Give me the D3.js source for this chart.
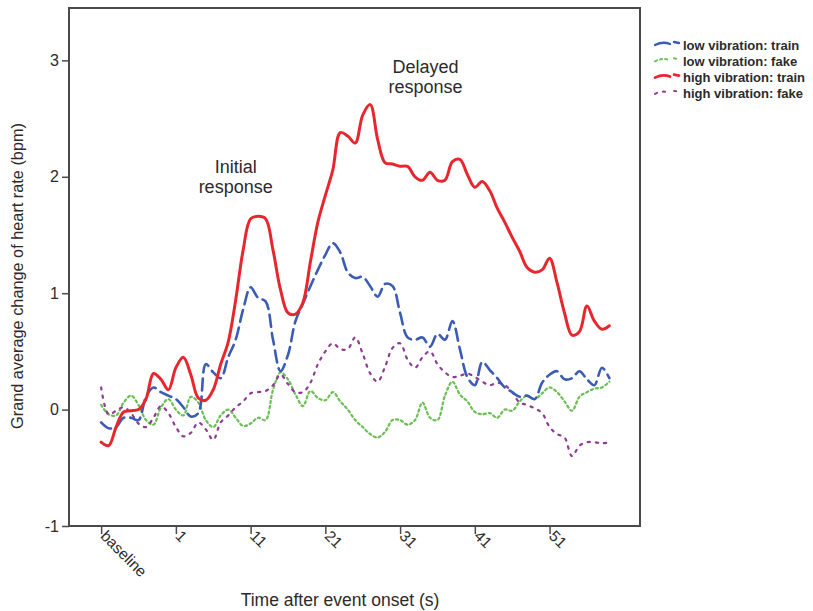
<!DOCTYPE html>
<html>
<head>
<meta charset="utf-8">
<script src="https://cdn.jsdelivr.net/npm/d3@7"></script>
<style>
  body { margin: 0; background: #fff; }
  text { font-family: Arial, "Liberation Sans", sans-serif; fill: #2b2b2b; }
</style>
</head>
<body>
<div id="chart"></div>
<script>
// seconds after onset (baseline sits at -9 on the time axis)
var seconds = [-9,-8,-7,-6,-5,-4,-3,-2,-1,0,1,2,3,4,5,6,7,8,9,10,11,12,13,14,15,16,17,18,19,20,
  21,22,23,24,25,26,27,28,29,30,31,32,33,34,35,36,37,38,39,40,41,42,43,44,45,46,47,48,49,50,
  51,52,53,54,55,56,57,58,59];

var lowTrain = [-0.11,-0.16,-0.15,-0.07,-0.07,-0.09,0.11,0.19,0.15,0.12,0.09,0.02,-0.06,-0.03,0.39,0.32,0.27,0.45,0.60,0.86,
  1.05,0.96,0.93,0.60,0.33,0.47,0.76,0.91,1.06,1.20,1.33,1.43,1.35,1.18,1.13,1.14,1.06,0.97,1.08,1.06,
  0.83,0.62,0.60,0.62,0.54,0.65,0.60,0.76,0.52,0.28,0.21,0.41,0.34,0.27,0.19,0.15,0.11,0.12,0.09,0.23,
  0.30,0.33,0.26,0.27,0.33,0.26,0.21,0.36,0.27];

var lowFake = [0.04,-0.04,-0.05,0.06,0.12,0.04,-0.09,-0.13,0.02,0.09,0.00,-0.05,0.11,0.06,-0.09,-0.15,-0.05,0.00,-0.07,-0.14,
  -0.12,-0.07,-0.09,0.17,0.32,0.26,0.13,0.03,0.16,0.10,0.08,0.15,0.07,0.00,-0.09,-0.15,-0.21,-0.24,-0.19,-0.09,
  -0.09,-0.13,-0.09,0.06,-0.07,-0.09,0.12,0.24,0.13,0.07,-0.02,-0.04,-0.03,-0.07,0.00,-0.01,0.07,0.12,0.09,0.14,
  0.19,0.15,0.07,-0.01,0.11,0.15,0.18,0.19,0.24];

var highTrain = [-0.28,-0.31,-0.15,-0.02,-0.01,0.00,0.09,0.31,0.26,0.17,0.36,0.45,0.30,0.10,0.08,0.17,0.39,0.58,0.94,1.37,
  1.64,1.66,1.64,1.37,1.03,0.83,0.82,0.92,1.27,1.61,1.84,2.06,2.38,2.35,2.29,2.53,2.62,2.32,2.12,2.11,
  2.09,2.09,2.00,1.97,2.04,1.97,1.97,2.13,2.15,2.02,1.91,1.96,1.88,1.73,1.61,1.48,1.36,1.22,1.18,1.20,
  1.30,1.09,0.83,0.64,0.67,0.89,0.76,0.69,0.72];

var highFake = [0.19,-0.04,-0.01,0.02,-0.03,-0.12,-0.15,-0.07,0.03,-0.03,-0.15,-0.23,-0.20,-0.11,-0.17,-0.26,-0.11,-0.05,0.02,0.07,
  0.14,0.15,0.16,0.21,0.30,0.22,0.15,0.15,0.23,0.39,0.50,0.57,0.52,0.52,0.62,0.48,0.31,0.24,0.37,0.53,
  0.57,0.43,0.36,0.45,0.50,0.39,0.32,0.28,0.29,0.31,0.28,0.24,0.21,0.23,0.21,0.15,0.06,0.04,0.01,-0.03,
  -0.15,-0.21,-0.24,-0.40,-0.31,-0.28,-0.28,-0.29,-0.28];

var xTickValues = [-9, 1, 11, 21, 31, 41, 51];
var xTickLabels = ["baseline", "1", "11", "21", "31", "41", "51"];
var yTickValues = [-1, 0, 1, 2, 3];

var seriesNames = ["low vibration: train", "low vibration: fake", "high vibration: train", "high vibration: fake"];

const width = 813, height = 611;
const plot = {left: 69, right: 640, top: 8, bottom: 526};

const svg = d3.select("#chart").append("svg")
  .attr("width", width)
  .attr("height", height);

const x = d3.scaleLinear().domain([-13.3, 63.1]).range([plot.left, plot.right]);
const y = d3.scaleLinear().domain([-1, 3.45]).range([plot.bottom, plot.top]);

// styles for each series
const styles = [
  {data: lowTrain, color: "#3b5cb5", width: 2.6, dash: "12,6"},
  {data: lowFake, color: "#6cbf55", width: 2.2, dash: "2.2,3"},
  {data: highTrain, color: "#e8262d", width: 3, dash: null},
  {data: highFake, color: "#8e3c93", width: 2.2, dash: "2.2,6"}
];

const line = d3.line()
  .x((d, i) => x(seconds[i]))
  .y(d => y(d))
  .curve(d3.curveCatmullRom.alpha(0.5));

// draw order: green and purple below, then blue, red on top
[1, 3, 0, 2].forEach(k => {
  const s = styles[k];
  svg.append("path")
    .datum(s.data)
    .attr("fill", "none")
    .attr("stroke", s.color)
    .attr("stroke-width", s.width)
    .attr("stroke-dasharray", s.dash)
    .attr("stroke-linecap", "round")
    .attr("d", line);
});

// frame
svg.append("rect")
  .attr("x", plot.left).attr("y", plot.top)
  .attr("width", plot.right - plot.left).attr("height", plot.bottom - plot.top)
  .attr("fill", "none").attr("stroke", "#4a4a4a").attr("stroke-width", 2);

// y axis
const yAxis = svg.append("g")
  .attr("transform", `translate(${plot.left},0)`)
  .call(d3.axisLeft(y).tickValues(yTickValues).tickSize(7).tickFormat(d => d < 0 ? "-" + Math.abs(d) : d));
yAxis.select(".domain").remove();
yAxis.selectAll("line").attr("stroke", "#4a4a4a").attr("stroke-width", 1.5);
yAxis.selectAll("text").style("font-size", "16px").attr("fill", "#333").attr("x", -10);

// x axis
const xAxis = svg.append("g")
  .attr("transform", `translate(0,${plot.bottom})`)
  .call(d3.axisBottom(x).tickValues(xTickValues).tickSize(8).tickFormat((d, i) => xTickLabels[i]));
xAxis.select(".domain").remove();
xAxis.selectAll("line").attr("stroke", "#4a4a4a").attr("stroke-width", 1.5);
xAxis.selectAll("text")
  .style("font-size", "15.5px")
  .attr("fill", "#333")
  .attr("text-anchor", "start")
  .attr("x", 0).attr("y", 0).attr("dy", 0)
  .attr("transform", "translate(-2,11) rotate(45)");

// axis titles
svg.append("text")
  .attr("transform", `translate(23,${(plot.top + plot.bottom) / 2 + 9}) rotate(-90)`)
  .attr("text-anchor", "middle")
  .style("font-size", "16.3px")
  .text("Grand average change of heart rate (bpm)");

svg.append("text")
  .attr("x", 340).attr("y", 606)
  .attr("text-anchor", "middle")
  .style("font-size", "17.5px")
  .text("Time after event onset (s)");

// annotations
const notes = [
  {t: 9.0, v: 2.03, lines: ["Initial", "response"]},
  {t: 34.4, v: 2.89, lines: ["Delayed", "response"]}
];
notes.forEach(n => {
  const g = svg.append("text")
    .attr("text-anchor", "middle")
    .style("font-size", "18px");
  n.lines.forEach((l, i) => {
    g.append("tspan").attr("x", x(n.t)).attr("y", y(n.v) + i * 20).text(l);
  });
});

// legend
const legend = svg.append("g").attr("transform", "translate(655,45)");
seriesNames.forEach((name, i) => {
  const s = styles[i];
  const row = legend.append("g").attr("transform", `translate(0,${i * 16.3})`);
  row.append("path")
    .attr("d", "M0,0 Q8,-4 15,-1 M19,-3 L24,-2")
    .attr("fill", "none")
    .attr("stroke", s.color)
    .attr("stroke-width", s.width * 0.9)
    .attr("stroke-dasharray", s.dash ? (i === 0 ? null : s.dash) : null)
    .attr("stroke-linecap", "round");
  row.append("text")
    .attr("x", 28).attr("y", 4.5)
    .style("font-size", "13px")
    .style("font-weight", "bold")
    .attr("fill", "#222")
    .text(name);
});
</script>
</body>
</html>
